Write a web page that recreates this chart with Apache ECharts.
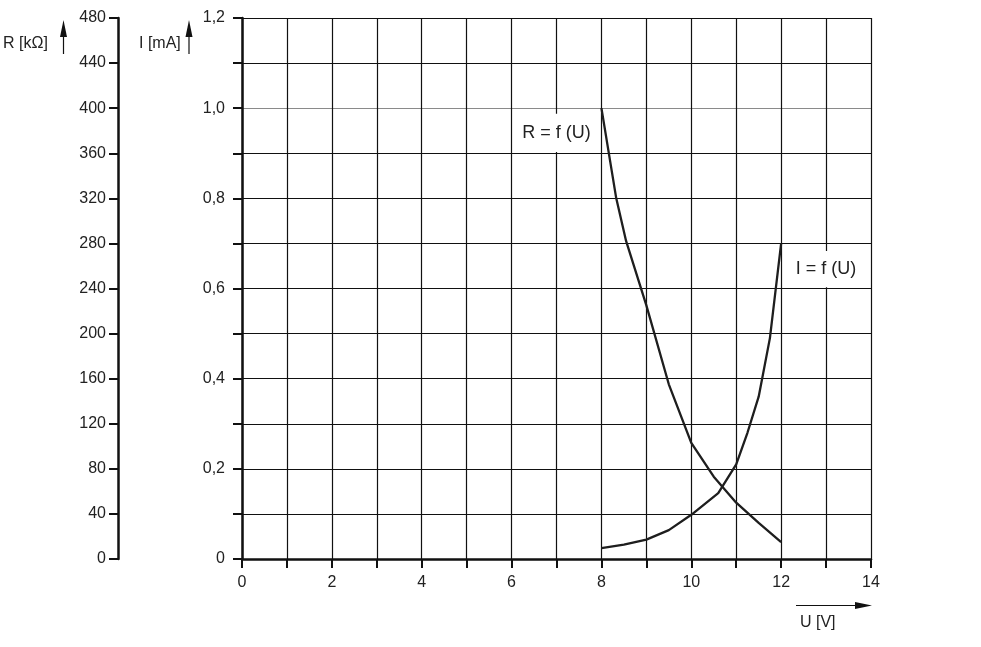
<!DOCTYPE html>
<html>
<head>
<meta charset="utf-8">
<script src="https://cdn.jsdelivr.net/npm/echarts@6/dist/echarts.min.js"></script>
<style>
  html, body { margin: 0; padding: 0; background: #fff; }
  #chart { width: 981px; height: 647px; }
</style>
</head>
<body>
<div id="chart"></div>
<script>
// R = f(U)
const uR = [8, 8.33, 8.55, 9, 9.5, 10, 10.5, 11, 11.5, 12];
const rVals = [400, 320, 282, 225, 155, 103, 73, 50, 32, 15];

// I = f(U)
const uI = [8, 8.5, 9, 9.5, 10, 10.6, 11, 11.25, 11.5, 11.75, 12];
const iVals = [0.024, 0.032, 0.043, 0.064, 0.098, 0.146, 0.21, 0.28, 0.36, 0.49, 0.70];

const FONT = "'Liberation Sans', Arial, sans-serif";
const INK = '#111';
const TXT = '#222';

const pairs = (xs, ys) => xs.map((x, i) => [x, ys[i]]);

// split line colours per tick, the 1,0 line is grey in the original
const iSplitColors = [];
for (let k = 0; k <= 12; k++) iSplitColors.push(k === 10 ? '#8a8a8a' : INK);

const chart = echarts.init(document.getElementById('chart'));

const tickStyle = { show: true, length: 9, lineStyle: { color: INK, width: 2 } };
const labelStyle = { color: TXT, fontSize: 16, fontFamily: FONT };

const option = {
    animation: false,
    backgroundColor: '#fff',
    grid: { left: 242, right: 110, top: 18, bottom: 88, containLabel: false },
    xAxis: {
        type: 'value',
        min: 0, max: 14, interval: 1,
        axisLine: { show: true, onZero: false, lineStyle: { color: INK, width: 2.5 } },
        axisTick: tickStyle,
        axisLabel: Object.assign({}, labelStyle, {
            margin: 16,
            formatter: v => (v % 2 === 0 ? String(v) : '')
        }),
        splitLine: { show: true, lineStyle: { color: INK, width: 1.2 } }
    },
    yAxis: [
        {
            type: 'value',
            position: 'left',
            min: 0, max: 1.2, interval: 0.1,
            axisLine: { show: true, onZero: false, lineStyle: { color: INK, width: 2.5 } },
            axisTick: tickStyle,
            axisLabel: Object.assign({}, labelStyle, {
                margin: 17,
                formatter: v => {
                    const k = Math.round(v * 10);
                    if (k % 2 !== 0) return '';
                    return k === 0 ? '0' : (k / 10).toFixed(1).replace('.', ',');
                }
            }),
            splitLine: { show: true, lineStyle: { color: iSplitColors, width: 1.2 } }
        },
        {
            type: 'value',
            position: 'left',
            offset: 124,
            min: 0, max: 480, interval: 40,
            axisLine: { show: true, onZero: false, lineStyle: { color: INK, width: 2.5 } },
            axisTick: tickStyle,
            axisLabel: Object.assign({}, labelStyle, { margin: 12 }),
            splitLine: { show: false }
        }
    ],
    series: [
        {
            name: 'R',
            type: 'line',
            yAxisIndex: 1,
            data: pairs(uR, rVals),
            showSymbol: false,
            smooth: false,
            lineStyle: { color: '#1e1e1e', width: 2.3 },
            markArea: {
                silent: true,
                itemStyle: { color: '#fff', opacity: 1 },
                label: { show: true, position: 'inside', color: TXT, fontSize: 18, fontFamily: FONT },
                data: [[{ name: 'R = f (U)', coord: [6.25, 361] }, { coord: [7.75, 395] }]]
            }
        },
        {
            name: 'I',
            type: 'line',
            yAxisIndex: 0,
            data: pairs(uI, iVals),
            showSymbol: false,
            smooth: false,
            lineStyle: { color: '#1e1e1e', width: 2.3 },
            markArea: {
                silent: true,
                itemStyle: { color: '#fff', opacity: 1 },
                label: { show: true, position: 'inside', color: TXT, fontSize: 18, fontFamily: FONT },
                data: [[{ name: 'I = f (U)', coord: [12.35, 0.603] }, { coord: [13.65, 0.683] }]]
            }
        }
    ],
    graphic: [
        // axis names with arrows
        { type: 'text', left: 3, top: 36, style: { text: 'R [kΩ]', fill: TXT, fontSize: 16, fontFamily: FONT } },
        { type: 'line', shape: { x1: 63.5, y1: 54, x2: 63.5, y2: 34 }, style: { stroke: INK, lineWidth: 1.2 } },
        { type: 'polygon', shape: { points: [[63.5, 20], [60, 37], [67, 37]] }, style: { fill: INK } },

        { type: 'text', left: 139, top: 36, style: { text: 'I [mA]', fill: TXT, fontSize: 16, fontFamily: FONT } },
        { type: 'line', shape: { x1: 189, y1: 54, x2: 189, y2: 34 }, style: { stroke: INK, lineWidth: 1.2 } },
        { type: 'polygon', shape: { points: [[189, 20], [185.5, 37], [192.5, 37]] }, style: { fill: INK } },

        { type: 'line', shape: { x1: 796, y1: 605.5, x2: 858, y2: 605.5 }, style: { stroke: INK, lineWidth: 1.2 } },
        { type: 'polygon', shape: { points: [[872, 605.5], [855, 602], [855, 609]] }, style: { fill: INK } },
        { type: 'text', left: 800, top: 615, style: { text: 'U [V]', fill: TXT, fontSize: 16, fontFamily: FONT } }
    ]
};

chart.setOption(option);
</script>
</body>
</html>
